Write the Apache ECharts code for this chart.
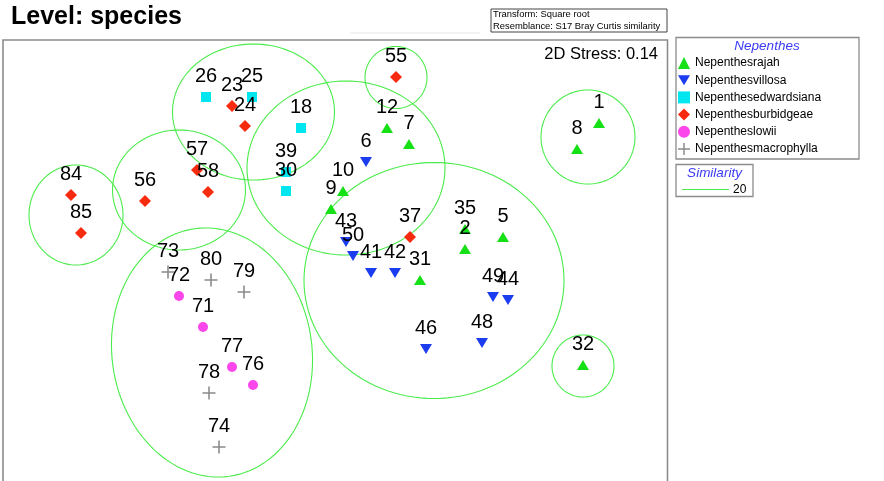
<!DOCTYPE html>
<html>
<head>
<meta charset="utf-8">
<script src="https://cdn.jsdelivr.net/npm/echarts@6/dist/echarts.min.js"></script>
<style>
html,body{margin:0;padding:0;background:#fff;}
#chart{width:884px;height:481px;}
</style>
</head>
<body>
<div id="chart"></div>
<script>
// ---- nMDS coordinates (x, y, sample label) ----
const rajah = [
  [2.64, 1.37, '1'], [1.30, 0.11, '2'], [1.68, 0.23, '5'], [0.74, 1.16, '7'],
  [2.42, 1.11, '8'], [-0.04, 0.51, '9'], [0.08, 0.69, '10'], [0.52, 1.32, '12'],
  [0.85, -0.20, '31'], [2.48, -1.05, '32'], [1.30, 0.31, '35']
];
const villosa = [
  [0.31, 0.98, '6'], [0.36, -0.13, '41'], [0.60, -0.13, '42'], [0.11, 0.18, '43'],
  [1.73, -0.40, '44'], [0.91, -0.89, '46'], [1.47, -0.83, '48'], [1.58, -0.37, '49'],
  [0.18, 0.04, '50']
];
const edwardsiana = [
  [-0.34, 1.32, '18'], [-0.83, 1.63, '25'], [-1.29, 1.63, '26'],
  [-0.49, 0.69, '30'], [-0.49, 0.88, '39']
];
const burbidgeae = [
  [-1.03, 1.54, '23'], [-0.90, 1.34, '24'], [0.75, 0.23, '37'], [0.61, 1.83, '55'],
  [-1.90, 0.59, '56'], [-1.38, 0.90, '57'], [-1.27, 0.68, '58'], [-2.64, 0.65, '84'],
  [-2.54, 0.27, '85']
];
const lowii = [
  [-1.32, -0.67, '71'], [-1.56, -0.36, '72'], [-0.82, -1.25, '76'], [-1.03, -1.07, '77']
];
const macrophylla = [
  [-1.67, -0.12, '73'], [-1.16, -1.87, '74'], [-1.26, -1.33, '78'],
  [-0.91, -0.32, '79'], [-1.24, -0.20, '80']
];
// ---- similarity (20%) cluster outlines: centre x, centre y, radius x, radius y, tilt (deg) ----
const clusterCX  = [-2.59, -1.56, -0.815, 0.11, 0.61, 2.53, 0.99, 2.48, -1.23];
const clusterCY  = [0.45, 0.70, 1.48, 0.92, 1.825, 1.23, -0.205, -1.06, -0.925];
const clusterRX  = [0.47, 0.665, 0.81, 0.99, 0.31, 0.47, 1.30, 0.31, 1.00];
const clusterRY  = [0.50, 0.60, 0.68, 0.87, 0.31, 0.47, 1.18, 0.31, 1.25];
const clusterRot = [0, 0, 0, 0, 0, 0, 0, 0, 8];

const speciesNames = ['Nepenthesrajah', 'Nepenthesvillosa', 'Nepenthesedwardsiana',
  'Nepenthesburbidgeae', 'Nepentheslowii', 'Nepenthesmacrophylla'];
const similarityLevel = '20';
const stressText = '2D Stress: 0.14';

const FONT = '"Liberation Sans", Arial, sans-serif';
const ELLIPSE_GREEN = '#4ceb4c';

const chart = echarts.init(document.getElementById('chart'), null, {renderer: 'canvas'});

const clusters = clusterCX.map((cx, i) => [cx, clusterCY[i], clusterRX[i], clusterRY[i], clusterRot[i]]);

function labelled(color) {
  return {
    show: true,
    position: 'inside',
    offset: [0, -21],
    formatter: p => p.data[2],
    color: '#000',
    fontSize: 20,
    fontFamily: FONT
  };
}

function scatter(name, data, symbol, size, color) {
  return {
    name: name,
    type: 'scatter',
    data: data,
    symbol: symbol,
    symbolSize: size,
    itemStyle: {color: color, opacity: 1},
    label: labelled(color),
    emphasis: {disabled: true},
    z: 3
  };
}

const PLUS = 'path://M4.4,0H5.6V4.4H10V5.6H5.6V10H4.4V5.6H0V4.4H4.4Z';
const DOWN = 'path://M0,0L12,0L6,10Z';

const option = {
  animation: false,
  backgroundColor: '#fff',
  grid: {left: 0, right: 0, top: 0, bottom: 0, containLabel: false},
  xAxis: {type: 'value', min: -3.35, max: 5.49, show: false},
  yAxis: {type: 'value', min: -2.21, max: 2.60, show: false},
  legend: {
    data: speciesNames,
    orient: 'vertical',
    left: 678,
    top: 56,
    padding: 0,
    itemGap: 3.2,
    itemWidth: 12,
    itemHeight: 12,
    textStyle: {fontSize: 12, fontFamily: FONT, color: '#000', lineHeight: 14},
    selectedMode: false
  },
  graphic: [
    {type: 'text', left: 11, top: 5, style: {text: 'Level: species', font: 'bold 25px ' + FONT, fill: '#000'}},
    {type: 'line', shape: {x1: 350, y1: 33, x2: 480, y2: 33}, style: {stroke: '#e6e6e6', lineWidth: 1}},
    {type: 'rect', shape: {x: 491, y: 9, width: 176, height: 23}, style: {fill: '#fff', stroke: '#444', lineWidth: 1}},
    {type: 'text', x: 493, y: 14.5, style: {text: 'Transform: Square root', font: '9.4px ' + FONT, fill: '#000', verticalAlign: 'middle'}},
    {type: 'text', x: 493, y: 26, style: {text: 'Resemblance: S17 Bray Curtis similarity', font: '9.4px ' + FONT, fill: '#000', verticalAlign: 'middle'}},
    {type: 'rect', shape: {x: 3, y: 40, width: 664.5, height: 470}, style: {fill: 'none', stroke: '#8c8c8c', lineWidth: 1.6}, z: 10},
    {type: 'text', x: 658, y: 54.5, style: {text: stressText, font: '16.5px ' + FONT, fill: '#000', align: 'right', verticalAlign: 'middle'}, z: 10},
    {type: 'rect', shape: {x: 676, y: 37.5, width: 183, height: 121.5}, style: {fill: 'none', stroke: '#8c8c8c', lineWidth: 1.3}},
    {type: 'text', x: 767, y: 46, style: {text: 'Nepenthes', font: 'italic 13.5px ' + FONT, fill: '#3a3af5', align: 'center', verticalAlign: 'middle'}},
    {type: 'rect', shape: {x: 676, y: 164.5, width: 77, height: 32}, style: {fill: 'none', stroke: '#8c8c8c', lineWidth: 1.3}},
    {type: 'text', x: 714.5, y: 173, style: {text: 'Similarity', font: 'italic 13.5px ' + FONT, fill: '#3a3af5', align: 'center', verticalAlign: 'middle'}},
    {type: 'line', shape: {x1: 682, y1: 189.5, x2: 729, y2: 189.5}, style: {stroke: ELLIPSE_GREEN, lineWidth: 1}},
    {type: 'text', x: 733, y: 189.5, style: {text: similarityLevel, font: '12px ' + FONT, fill: '#000', verticalAlign: 'middle'}}
  ],
  series: [
    {
      type: 'custom',
      name: 'clusters',
      data: clusters,
      clip: false,
      silent: true,
      z: 1,
      renderItem: function (params, api) {
        const c = api.coord([api.value(0), api.value(1)]);
        const s = api.size([api.value(2), api.value(3)]);
        const th = api.value(4) * Math.PI / 180;
        const pts = [];
        for (let k = 0; k <= 120; k++) {
          const t = k / 120 * Math.PI * 2;
          const ex = s[0] * Math.cos(t), ey = s[1] * Math.sin(t);
          pts.push([c[0] + ex * Math.cos(th) + ey * Math.sin(th), c[1] - ex * Math.sin(th) + ey * Math.cos(th)]);
        }
        return {type: 'polyline', shape: {points: pts}, style: {fill: null, stroke: ELLIPSE_GREEN, lineWidth: 1.1}};
      }
    },
    scatter(speciesNames[0], rajah, 'triangle', [12, 10], '#16e016'),
    scatter(speciesNames[1], villosa, DOWN, [12, 10], '#1c3cf0'),
    scatter(speciesNames[2], edwardsiana, 'rect', 10, '#00e6ef'),
    scatter(speciesNames[3], burbidgeae, 'diamond', 12, '#f52a0f'),
    scatter(speciesNames[4], lowii, 'circle', 10, '#fa46ea'),
    scatter(speciesNames[5], macrophylla, PLUS, 13, '#8a8a8a')
  ]
};
chart.setOption(option);
</script>
</body>
</html>
